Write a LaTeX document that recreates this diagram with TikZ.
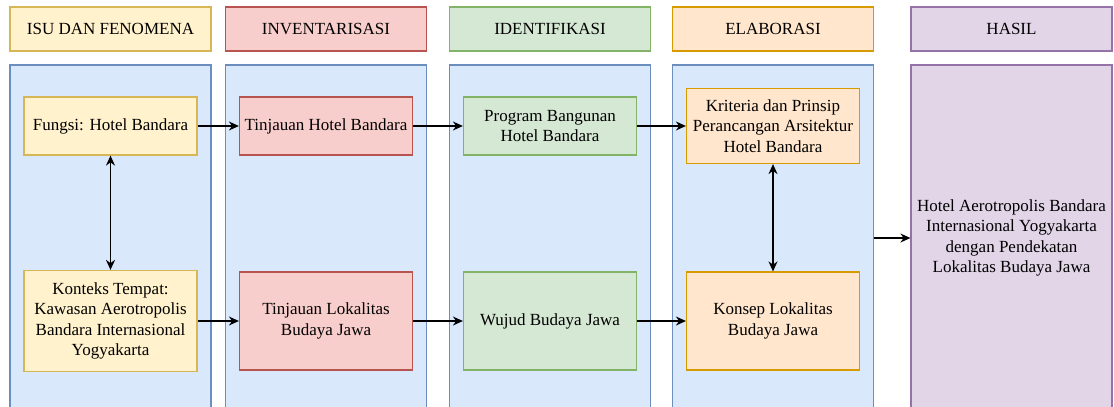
\documentclass[tikz,border=0pt]{standalone}
\usepackage{fontspec}
\setmainfont{Liberation Serif}
\definecolor{dyellow}{HTML}{FFF2CC}\definecolor{dyellowd}{HTML}{D6B656}
\definecolor{dred}{HTML}{F8CECC}\definecolor{dredd}{HTML}{B85450}
\definecolor{dgreen}{HTML}{D5E8D4}\definecolor{dgreend}{HTML}{82B366}
\definecolor{dorange}{HTML}{FFE6CC}\definecolor{doranged}{HTML}{D79B00}
\definecolor{dpurple}{HTML}{E1D5E7}\definecolor{dpurpled}{HTML}{9673A6}
\definecolor{dblue}{HTML}{DAE8FC}\definecolor{dblued}{HTML}{6C8EBF}
\usetikzlibrary{arrows.meta,positioning}

\begin{document}
\begin{tikzpicture}[x=1pt, y=-1pt,
  every node/.style={font=\fontsize{17}{20.5}\selectfont, text=black, align=center, inner sep=2pt},
  hdr/.style={draw, line width=1.2pt, minimum width=201pt, minimum height=44pt},
  pnl/.style={draw, line width=1.2pt, minimum width=201pt, minimum height=346pt},
  bx/.style={draw, line width=1.2pt, minimum width=173pt},
  arr/.style={-{Stealth[length=10pt,width=9pt]}, line width=1.5pt},
  darr/.style={{Stealth[length=10pt,width=9pt]}-{Stealth[length=10pt,width=9pt]}, line width=1.5pt}]
\useasboundingbox (0,0) rectangle (1114,407);
% Headers
\node[hdr, fill=dyellow, draw=dyellowd] (h1) at (110.5,29) {ISU DAN FENOMENA};
\node[hdr, fill=dred, draw=dredd] (h2) at (326,29) {INVENTARISASI};
\node[hdr, fill=dgreen, draw=dgreend] (h3) at (550,29) {IDENTIFIKASI};
\node[hdr, fill=dorange, draw=doranged] (h4) at (773,29) {ELABORASI};
\node[hdr, fill=dpurple, draw=dpurpled] (h5) at (1011.5,29) {HASIL};
% Panels
\node[pnl, fill=dblue, draw=dblued] (p1) at (110.5,238) {};
\node[pnl, fill=dblue, draw=dblued] (p2) at (326,238) {};
\node[pnl, fill=dblue, draw=dblued] (p3) at (550,238) {};
\node[pnl, fill=dblue, draw=dblued] (p4) at (773,238) {};
\node[pnl, fill=dpurple, draw=dpurpled] (res) at (1011.5,238) {Hotel Aerotropolis Bandara\\Internasional Yogyakarta\\dengan Pendekatan\\Lokalitas Budaya Jawa};
% Boxes
\node[bx, minimum height=58pt, fill=dyellow, draw=dyellowd] (fungsi) at (110.5,126) {Fungsi: Hotel Bandara};
\node[bx, minimum height=101pt, fill=dyellow, draw=dyellowd] (konteks) at (110.5,321) {Konteks Tempat:\\Kawasan Aerotropolis\\Bandara Internasional\\Yogyakarta};
\node[bx, minimum height=58pt, fill=dred, draw=dredd] (tjhotel) at (326,126) {Tinjauan Hotel Bandara};
\node[bx, minimum height=98pt, fill=dred, draw=dredd] (tjlokal) at (326,321) {Tinjauan Lokalitas\\Budaya Jawa};
\node[bx, minimum height=58pt, fill=dgreen, draw=dgreend] (program) at (550,126) {Program Bangunan\\Hotel Bandara};
\node[bx, minimum height=98pt, fill=dgreen, draw=dgreend] (wujud) at (550,321) {Wujud Budaya Jawa};
\node[bx, minimum height=75pt, fill=dorange, draw=doranged] (kriteria) at (773,126) {Kriteria dan Prinsip\\Perancangan Arsitektur\\Hotel Bandara};
\node[bx, minimum height=98pt, fill=dorange, draw=doranged] (konsep) at (773,321) {Konsep Lokalitas\\Budaya Jawa};
% Arrows
\draw[darr] (fungsi) -- (konteks);
\draw[darr] (kriteria) -- (konsep);
\draw[arr] (fungsi) -- (tjhotel);
\draw[arr] (tjhotel) -- (program);
\draw[arr] (program) -- (kriteria);
\draw[arr] (konteks) -- (tjlokal);
\draw[arr] (tjlokal) -- (wujud);
\draw[arr] (wujud) -- (konsep);
\draw[arr] (p4) -- (res);
\end{tikzpicture}
\end{document}
